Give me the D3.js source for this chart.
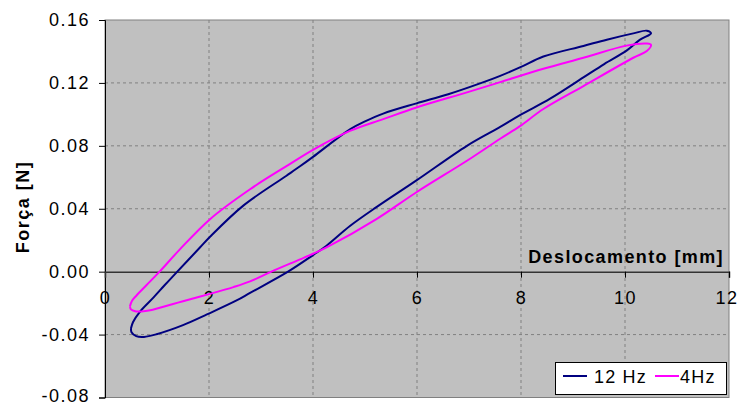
<!DOCTYPE html>
<html><head><meta charset="utf-8">
<script src="https://cdn.jsdelivr.net/npm/d3@7"></script>
<style>
body{margin:0;background:#fff;}
svg text{font-family:"Liberation Sans",Arial,sans-serif;}
</style></head>
<body><svg id="c" width="739" height="406"></svg>
<script>
const xTicks = [0,2,4,6,8,10,12];
const yTicks = [-0.08,-0.04,0.00,0.04,0.08,0.12,0.16];
const seriesNames = ["12 Hz","4Hz"];
const seriesColors = ["#000080","#FF00FF"];
const xLabel = "Deslocamento [mm]";
const yLabel = "Força [N]";

// 12 Hz loop: [deslocamento, força]
const hz12 = [
 [0.50,-0.036],[0.54,-0.032],[0.67,-0.0255],[0.93,-0.0165],[1.15,-0.0085],[1.39,0.0],[1.83,0.0155],
 [2.02,0.0222],[2.66,0.042],[3.49,0.061],[3.75,0.067],[4.0,0.073],[4.71,0.0905],[5.0,0.0955],[5.35,0.1005],
 [5.99,0.107],[6.6,0.1128],[7.28,0.1205],[7.6,0.1245],[8.0,0.1302],[8.43,0.1368],[9.2,0.1435],
 [9.65,0.1475],[10.16,0.1515],[10.42,0.1532],[10.5,0.1515],
 [10.29,0.1475],[10.03,0.1405],[9.6,0.132],[9.2,0.1235],[8.56,0.110],[7.98,0.0995],[7.6,0.092],
 [6.96,0.080],[5.99,0.058],[5.22,0.041],[4.71,0.029],[4.26,0.0165],[4.0,0.0105],
 [3.52,0.0],[2.79,-0.0135],[2.53,-0.0183],[1.96,-0.0272],[1.5,-0.034],[0.99,-0.0398],
 [0.75,-0.0415],[0.6,-0.041],[0.51,-0.0385],[0.50,-0.036]
];
// 4 Hz loop
const hz4 = [
 [0.48,-0.022],[0.52,-0.0185],[0.61,-0.015],[0.8,-0.0085],[1.05,0.0],[1.44,0.0142],[2.02,0.0334],
 [2.79,0.0524],[3.49,0.0671],[4.0,0.0775],[4.71,0.0895],[5.35,0.097],[5.99,0.1044],[6.96,0.114],
 [7.6,0.1205],[8.43,0.129],[9.2,0.136],[10.03,0.1437],[10.42,0.145],[10.5,0.1442],
 [10.42,0.1403],[10.16,0.136],[9.2,0.118],[8.43,0.1034],[7.98,0.0925],[7.6,0.0845],[6.96,0.0705],
 [5.99,0.0505],[5.22,0.0334],[4.26,0.0154],[4.0,0.0114],[3.75,0.0078],[3.2,0.0],[2.79,-0.0062],
 [2.47,-0.0098],[2.0,-0.0143],[1.5,-0.0188],[1.31,-0.0205],[0.87,-0.0245],[0.7,-0.0253],
 [0.58,-0.0252],[0.5,-0.024],[0.48,-0.022]
];
const series = [hz12, hz4];

const svg = d3.select("#c");
const x = d3.scaleLinear().domain([0,12]).range([105,729]);
const y = d3.scaleLinear().domain([-0.08,0.16]).range([397.5,20]);
const L=105,R=729,T=20,B=397.5;

svg.append("rect").attr("x",L).attr("y",T).attr("width",R-L).attr("height",B-T)
  .attr("fill","#C0C0C0");

// grid
const g = svg.append("g");
g.selectAll("line.v").data(xTicks.filter(d=>d>0&&d<12)).join("line")
  .attr("x1",d=>x(d)).attr("x2",d=>x(d)).attr("y1",T).attr("y2",B)
  .attr("stroke","#808080").attr("stroke-dasharray","3,3");
g.selectAll("line.h").data(yTicks.filter(d=>d!==0&&d>-0.08&&d<0.16)).join("line")
  .attr("y1",d=>y(d)).attr("y2",d=>y(d)).attr("x1",L).attr("x2",R)
  .attr("stroke","#808080").attr("stroke-dasharray","3,3");

svg.append("rect").attr("x",L).attr("y",T).attr("width",R-L).attr("height",B-T)
  .attr("fill","none").attr("stroke","#808080");

// y axis
const yAxis = svg.append("g").attr("transform",`translate(${L},0)`)
  .call(d3.axisLeft(y).tickValues(yTicks).tickFormat(d3.format(".2f")).tickSize(6).tickPadding(9));
yAxis.select(".domain").attr("stroke","#000");
yAxis.selectAll("text").attr("font-size",18).attr("fill","#000").style("letter-spacing","1.5px")
  .text(d=>d3.format(".2f")(d).replace("−","-"));
yAxis.selectAll(".tick").filter(d=>d===-0.08).select("text").attr("y",-2);

// x axis at y=0
const xAxis = svg.append("g").attr("transform",`translate(0,${y(0)})`)
  .call(d3.axisBottom(x).tickValues(xTicks).tickFormat(d3.format("d")).tickSize(6).tickPadding(14));
xAxis.select(".domain").attr("stroke","#333").attr("stroke-width",1.5);
xAxis.selectAll("text").attr("font-size",18).attr("fill","#000").style("letter-spacing","1.5px");
xAxis.selectAll(".tick").filter(d=>d===12).select("text").attr("text-anchor","end").attr("x",9);
xAxis.selectAll(".tick").filter(d=>d===0).select("line").remove();

// curves
const line = d3.line().x(d=>x(d[0])).y(d=>y(d[1])).curve(d3.curveCatmullRom.alpha(0.5));
svg.append("g").selectAll("path").data(series).join("path")
  .attr("d",line).attr("fill","none").attr("stroke",(d,i)=>seriesColors[i]).attr("stroke-width",2)
  .attr("stroke-linejoin","round");

// axis titles
svg.append("text").attr("x",724).attr("y",263).attr("text-anchor","end")
  .attr("font-size",18).attr("font-weight","bold").style("letter-spacing","1.4px").text(xLabel);
svg.append("text").attr("transform","translate(29,207) rotate(-90)").attr("text-anchor","middle")
  .attr("font-size",18).attr("font-weight","bold").style("letter-spacing","1.5px").text(yLabel);

// legend
const lg = svg.append("g");
lg.append("rect").attr("x",555.5).attr("y",362.5).attr("width",171).attr("height",32)
  .attr("fill","#fff").attr("stroke","#000");
const lx = [563,655], tx=[594,680];
seriesNames.forEach((n,i)=>{
  lg.append("line").attr("x1",lx[i]).attr("x2",lx[i]+24).attr("y1",376).attr("y2",376)
    .attr("stroke",seriesColors[i]).attr("stroke-width",2);
  lg.append("text").attr("x",tx[i]).attr("y",383).attr("font-size",18)
    .style("letter-spacing","1.2px").text(n);
});
</script></body></html>
